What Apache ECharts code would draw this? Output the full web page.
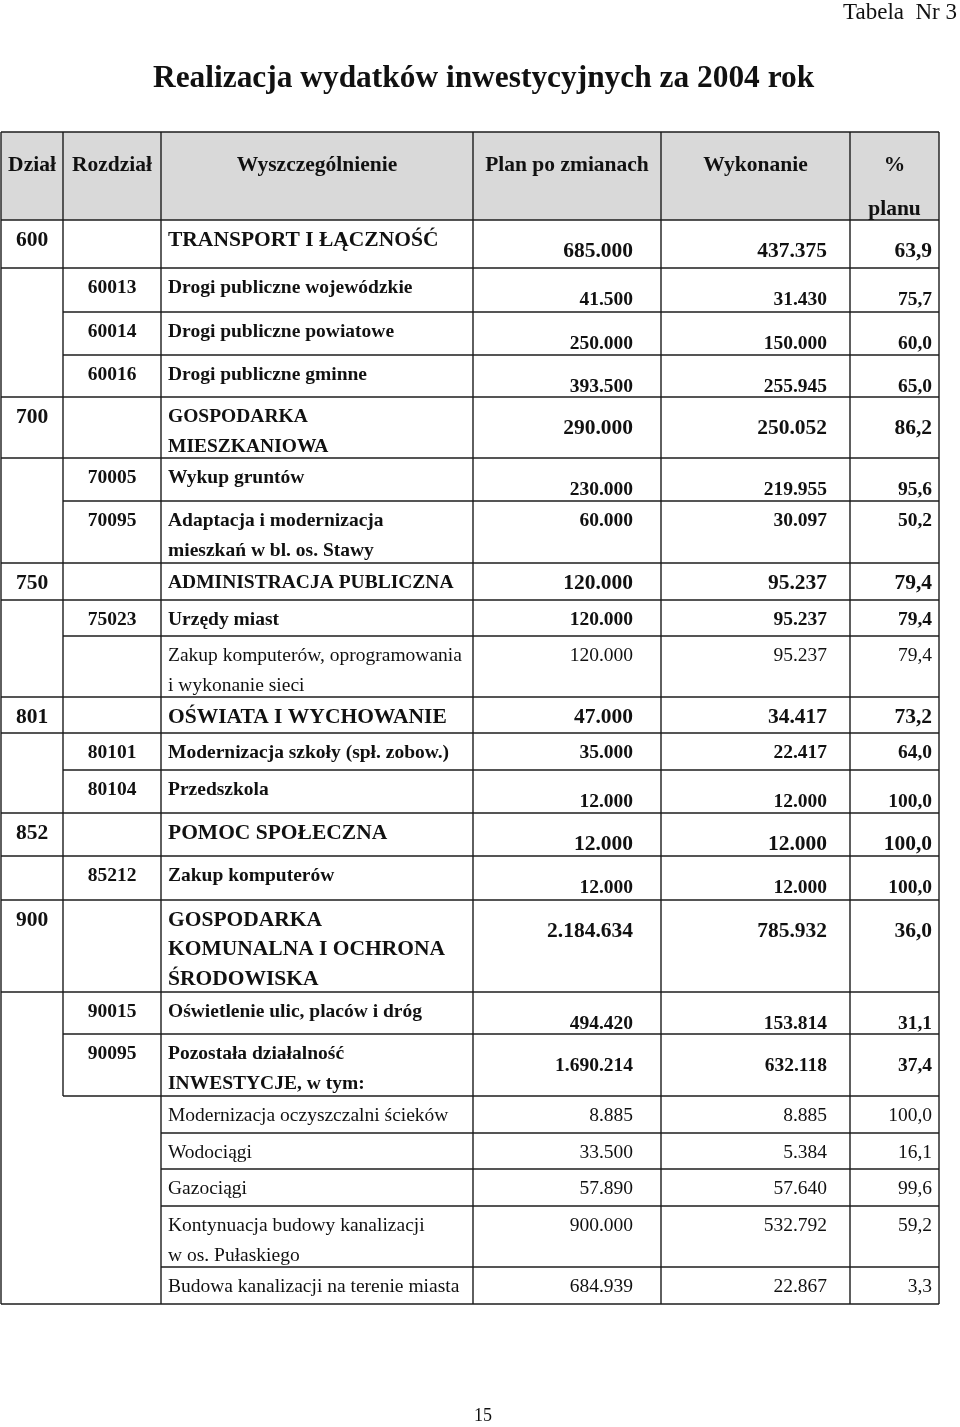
<!DOCTYPE html>
<html><head><meta charset="utf-8">
<script src="https://cdn.jsdelivr.net/npm/echarts@6/dist/echarts.min.js"></script>
<style>html,body{margin:0;padding:0;background:#fff}#c{width:960px;height:1427px}</style>
</head><body><div id="c"></div>
<script>
// ---------- DATA ----------
const headers = ['Dział', 'Rozdział', 'Wyszczególnienie', 'Plan po zmianach', 'Wykonanie', '%\nplanu'];
const dzial = ['600','','','','700','','','750','','','801','','','852','','900','','','','','','',''];
const rozdzial = ['','60013','60014','60016','','70005','70095','','75023','','','80101','80104','','85212','','90015','90095','','','','',''];
const opis = [
  'TRANSPORT I ŁĄCZNOŚĆ',
  'Drogi publiczne wojewódzkie',
  'Drogi publiczne powiatowe',
  'Drogi publiczne gminne',
  'GOSPODARKA\nMIESZKANIOWA',
  'Wykup gruntów',
  'Adaptacja i modernizacja\nmieszkań w bl. os. Stawy',
  'ADMINISTRACJA PUBLICZNA',
  'Urzędy miast',
  'Zakup komputerów, oprogramowania\ni wykonanie sieci',
  'OŚWIATA I WYCHOWANIE',
  'Modernizacja szkoły (spł. zobow.)',
  'Przedszkola',
  'POMOC SPOŁECZNA',
  'Zakup komputerów',
  'GOSPODARKA\nKOMUNALNA I OCHRONA\nŚRODOWISKA',
  'Oświetlenie ulic, placów i dróg',
  'Pozostała działalność\nINWESTYCJE, w tym:',
  'Modernizacja oczyszczalni ścieków',
  'Wodociągi',
  'Gazociągi',
  'Kontynuacja budowy kanalizacji\nw os. Pułaskiego',
  'Budowa kanalizacji na terenie miasta'
];
const plan = [685000,41500,250000,393500,290000,230000,60000,120000,120000,120000,47000,35000,12000,12000,12000,2184634,494420,1690214,8885,33500,57890,900000,684939];
const wykonanie = [437375,31430,150000,255945,250052,219955,30097,95237,95237,95237,34417,22417,12000,12000,12000,785932,153814,632118,8885,5384,57640,532792,22867];
const procent = [63.9,75.7,60.0,65.0,86.2,95.6,50.2,79.4,79.4,79.4,73.2,64.0,100.0,100.0,100.0,36.0,31.1,37.4,100.0,16.1,99.6,59.2,3.3];
const kind = ['dzial','roz','roz','roz','dzial','roz','roz','dzial','roz','item','dzial','roz','roz','dzial','roz','dzial','roz','roz','inv','inv','inv','inv','inv'];

// ---------- LAYOUT / STYLE ----------
const colX = [1, 63, 161, 473, 661, 850, 939];
const headTop = 132, headBot = 220;
const rowH = [48,44,43,42,61,43,62,37,36,61,36,37,43,43,44,92,42,62,37,36,37,61,37];
const numLow = [1,1,1,1,1,1,0,0,0,0,0,0,1,1,1,1,1,1,0,0,0,0,0];
const bigLabelRows = [0,10,13,15];
const FONT = '"Liberation Serif","Times New Roman",serif';
const INK = '#111';
const LINE = '#1c1c1c';

const rowTop = [];
{ let y = headBot; rowH.forEach(h => { rowTop.push(y); y += h; }); }

const fmtNum = n => String(n).replace(/\B(?=(\d{3})+(?!\d))/g, '.');
const fmtPct = p => p.toFixed(1).replace('.', ',');

function mkLine(api, x1, y1, x2, y2) {
  const a = api.coord([x1, y1]), b = api.coord([x2, y2]);
  return { type: 'line', shape: { x1: a[0], y1: a[1], x2: b[0], y2: b[1] },
           style: { stroke: LINE, lineWidth: 1.4 } };
}
function mkText(api, x, y, text, size, bold, align) {
  const p = api.coord([x, y]);
  return { type: 'text', x: p[0], y: p[1],
    style: { text: text, fill: INK, fontFamily: FONT, fontSize: size,
             fontWeight: bold ? 'bold' : 'normal', align: align, verticalAlign: 'middle' } };
}

function renderHeader(params, api) {
  const children = [];
  const a = api.coord([colX[0], headTop]), b = api.coord([colX[6], headBot]);
  children.push({ type: 'rect', shape: { x: a[0], y: a[1], width: b[0]-a[0], height: b[1]-a[1] },
                  style: { fill: '#d9d9d9', stroke: null } });
  children.push(mkLine(api, colX[0], headTop, colX[6], headTop));
  children.push(mkLine(api, colX[0], headBot, colX[6], headBot));
  colX.forEach(x => children.push(mkLine(api, x, headTop, x, headBot)));
  headers.forEach((h, c) => {
    const cx = (colX[c] + colX[c+1]) / 2;
    const lines = h.split('\n');
    children.push(mkText(api, cx, 165, lines[0], 21.5, true, 'center'));
    if (lines[1]) children.push(mkText(api, cx, 209, lines[1], 21.5, true, 'center'));
  });
  return { type: 'group', children: children };
}

function renderRow(params, api) {
  const i = api.value(0);
  const k = kind[i];
  const top = rowTop[i], bot = top + rowH[i];
  const last = i === rowH.length - 1;
  const children = [];
  colX.forEach((x, c) => {
    if (c === 1 && k === 'inv') return;
    children.push(mkLine(api, x, top, x, bot));
  });
  let sx;
  if (last || k === 'dzial' || kind[i+1] === 'dzial') sx = colX[0];
  else if (k === 'inv') sx = colX[2];
  else sx = colX[1];
  children.push(mkLine(api, sx, bot, colX[6], bot));

  const bold = (k === 'dzial' || k === 'roz');
  const labelSize = bigLabelRows.indexOf(i) >= 0 ? 21.5 : 19.5;
  const numSize = k === 'dzial' ? 21.5 : 19.5;
  const ly = top + 20;
  if (dzial[i]) children.push(mkText(api, (colX[0]+colX[1])/2, ly, dzial[i], 21.5, true, 'center'));
  if (rozdzial[i]) children.push(mkText(api, (colX[1]+colX[2])/2, ly, rozdzial[i], 19.5, true, 'center'));
  opis[i].split('\n').forEach((t, j) => {
    children.push(mkText(api, colX[2] + 7, ly + j * 29.6, t, labelSize, bold, 'left'));
  });
  const ny = numLow[i] ? top + 31.5 : top + 20;
  children.push(mkText(api, colX[4] - 28, ny, fmtNum(plan[i]), numSize, bold, 'right'));
  children.push(mkText(api, colX[5] - 23, ny, fmtNum(wykonanie[i]), numSize, bold, 'right'));
  children.push(mkText(api, colX[6] - 7, ny, fmtPct(procent[i]), numSize, bold, 'right'));
  return { type: 'group', children: children };
}

const chart = echarts.init(document.getElementById('c'), null, { renderer: 'canvas' });
chart.setOption({
  animation: false,
  backgroundColor: '#fff',
  title: [
    { text: 'Realizacja wydatków inwestycyjnych za 2004 rok', left: 153, top: 63, padding: 0,
      textStyle: { fontFamily: FONT, fontSize: 31.4, fontWeight: 'bold', color: INK } },
    { text: 'Tabela  Nr 3', right: 3, top: 1, padding: 0,
      textStyle: { fontFamily: FONT, fontSize: 23, fontWeight: 'normal', color: INK } },
    { text: '15', left: 474, top: 1407, padding: 0,
      textStyle: { fontFamily: FONT, fontSize: 18, fontWeight: 'normal', color: INK } }
  ],
  grid: { left: 0, right: 0, top: 0, bottom: 0 },
  xAxis: { type: 'value', min: 0, max: 960, show: false },
  yAxis: { type: 'value', min: 0, max: 1427, inverse: true, show: false },
  series: [
    { type: 'custom', renderItem: renderHeader, data: [[0, 0]], silent: true, clip: false },
    { type: 'custom', renderItem: renderRow, data: rowH.map((_, i) => [i, 0]), silent: true, clip: false }
  ]
});
</script>
</body></html>
